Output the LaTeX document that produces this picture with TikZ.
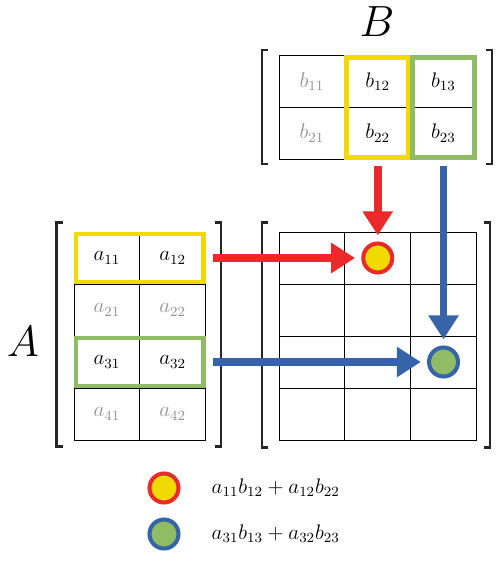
\documentclass[tikz,border=0pt]{standalone}
\usepackage{amsmath}
\usepackage{tikz}
\usetikzlibrary{arrows.meta,positioning,calc,fit}
\definecolor{mRed}{HTML}{EA2A2A}
\definecolor{mYellow}{HTML}{F0DA00}
\definecolor{mGreen}{HTML}{8FBC65}
\definecolor{mBlue}{HTML}{3564A8}
\definecolor{mGray}{HTML}{929292}
\definecolor{mDark}{HTML}{262626}
\tikzset{
  cell/.style={draw=black, line width=0.55pt, minimum width=1.315cm, minimum height=1.04cm,
               inner sep=0pt, font=\large},
  hlY/.style={draw=mYellow, line width=2.8pt, inner sep=-1.4pt},
  hlG/.style={draw=mGreen, line width=2.8pt, inner sep=-1.4pt},
  dotR/.style={circle, draw=mRed, fill=mYellow, line width=2.3pt, minimum size=0.58cm, inner sep=0pt},
  dotB/.style={circle, draw=mBlue, fill=mGreen, line width=2.3pt, minimum size=0.58cm, inner sep=0pt},
  brk/.style={draw=mDark, line width=1.3pt},
  fat/.style={-{Triangle[length=0.48cm, width=0.58cm]}, line width=4.5pt, shorten >=3.5pt},
}
\begin{document}
\begin{tikzpicture}
    \useasboundingbox (0,0) rectangle (10,-11.3);
    % matrix A, B and the product grid
    \foreach \row/\y/\s in {1/-5.16/black, 2/-6.20/mGray, 3/-7.24/black, 4/-8.28/mGray}
      \foreach \col/\x in {1/2.138, 2/3.454}
        \node[cell, text=\s] (a\row\col) at (\x,\y) {$a_{\row\col}$};
    \foreach \col/\x/\s in {1/6.24/mGray, 2/7.555/black, 3/8.87/black}
      \foreach \row/\y in {1/-1.635, 2/-2.665}
        \node[cell, text=\s] (b\row\col) at (\x,\y) {$b_{\row\col}$};
    \foreach \row/\y in {1/-5.16, 2/-6.20, 3/-7.24, 4/-8.28}
      \foreach \col/\x in {1/6.24, 2/7.555, 3/8.87}
        \node[cell] (c\row\col) at (\x,\y) {};
    % brackets
    \draw[brk] ($(a11.north west)+(-0.22,0.18)$) -- ++(-0.12,0) |- ($(a41.south west)+(-0.22,-0.12)$);
    \draw[brk] ($(a12.north east)+(0.18,0.18)$) -- ++(0.12,0) |- ($(a42.south east)+(0.18,-0.12)$);
    \draw[brk] ($(b11.north west)+(-0.22,0.1)$) -- ++(-0.12,0) |- ($(b21.south west)+(-0.22,-0.08)$);
    \draw[brk] ($(b13.north east)+(0.18,0.1)$) -- ++(0.12,0) |- ($(b23.south east)+(0.18,-0.08)$);
    \draw[brk] ($(c11.north west)+(-0.22,0.18)$) -- ++(-0.12,0) |- ($(c41.south west)+(-0.22,-0.14)$);
    \draw[brk] ($(c13.north east)+(0.14,0.18)$) -- ++(0.12,0) |- ($(c43.south east)+(0.14,-0.14)$);
    % highlighted rows and columns
    \node[hlY, fit=(a11)(a12)] (rowY) {};
    \node[hlG, fit=(a31)(a32)] (rowG) {};
    \node[hlY, fit=(b12)(b22)] (colY) {};
    \node[hlG, fit=(b13)(b23)] (colG) {};
    \node[dotR] (pR) at (c12) {};
    \node[dotB] (pB) at (c33) {};
    \draw[fat, mRed] ([xshift=0.13cm]a12.east) -- (pR);
    \draw[fat, mBlue] ([xshift=0.13cm]a32.east) -- (pB);
    \draw[fat, mRed] ([yshift=-0.12cm]b22.south) -- (pR);
    \draw[fat, mBlue] ([yshift=-0.12cm]b23.south) -- (pB);
    \node[font=\Huge] (labA) at (0.46,-6.84) {$A$};
    \node[font=\Huge] (labB) at (7.54,-0.44) {$B$};
    % legend
    \node[dotR] (keyR) at (3.28,-9.76) {};
    \node[dotB] (keyB) at (3.28,-10.68) {};
    \node[right=0.5cm of keyR, font=\large] (txtR) {$a_{11}b_{12}+a_{12}b_{22}$};
    \node[right=0.5cm of keyB, font=\large] (txtB) {$a_{31}b_{13}+a_{32}b_{23}$};
  \end{tikzpicture}
\end{document}
